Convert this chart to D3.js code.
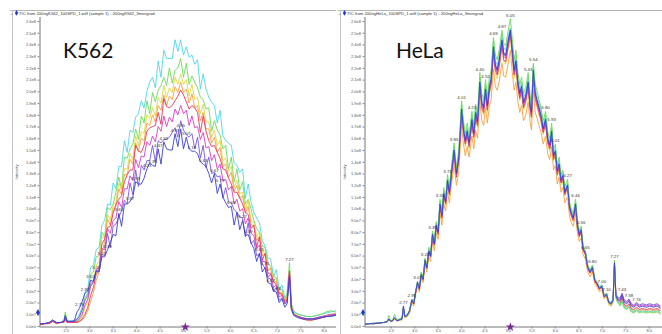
<!DOCTYPE html>
<html>
<head>
<meta charset="utf-8">
<script src="https://cdn.jsdelivr.net/npm/d3@7"></script>
<style>
  html, body { margin: 0; padding: 0; background: #fff; }
  svg { display: block; }
</style>
</head>
<body>
<svg id="chart" width="662" height="334"></svg>
<script>
// ---------- shared axis data (intensity in units of 1e7 counts) ----------
const yTickValues = [0,1,2,3,4,5,6,7,8,9,10,11,12,13,14,15,16,17,18,19,20,21,22,23,24,25,26];
const xTickValues = [2.5,3.0,3.5,4.0,4.5,5.0,5.5,6.0,6.5,7.0,7.5,8.0];
// trace colours: cyan, green, yellow, orange, red, magenta, violet, navy
const seriesColors = ["#4fd6e6", "#6fd85a", "#e0d83e", "#f4a040", "#e5365e", "#d43fc0", "#7b55de", "#3a3ec8"];

// ---------- K562 run: retention time (min) ----------
const k562Times = [1.95,2.05,2.15,2.22,2.30,2.40,2.46,2.49,2.53,2.60,2.68,2.74,
  2.79,2.85,2.91,2.97,3.03,3.09,3.15,3.21,3.27,3.33,3.39,3.45,3.51,3.57,3.63,3.69,3.75,3.81,3.87,3.93,3.99,
  4.05,4.11,4.17,4.23,4.29,4.35,4.41,4.47,4.53,4.59,4.65,4.71,4.77,4.83,4.89,4.95,5.01,5.07,5.13,5.19,5.25,
  5.31,5.37,5.43,5.49,5.55,5.61,5.67,5.73,5.79,5.85,5.91,5.97,6.03,6.09,6.15,6.21,6.27,6.33,6.39,6.45,6.51,
  6.57,6.63,6.69,6.75,6.81,6.87,6.93,6.99,7.05,7.11,7.17,7.22,
  7.27,7.31,7.36,7.45,7.55,7.65,7.75,7.85,7.95,8.05,8.15,8.25,8.32];

const k562Cyan = [0.2,0.2,0.3,0.5,0.3,0.3,0.4,0.8,0.4,0.4,0.5,0.6,
  1.0,1.6,2.9,3.2,5.0,5.2,6.5,6.7,8.6,
  9.0,10.4,10.3,12.2,11.7,13.6,13.6,15.8,14.8,16.7,16.5,17.8,18.1,19.2,18.6,20.0,20.8,21.2,20.3,22.6,21.2,23.5,22.8,22.8,22.8,24.4,23.4,24.4,23.1,23.8,22.9,23.1,22.3,22.7,20.2,21.5,20.2,19.5,19.1,18.8,17.3,18.4,16.2,15.8,15.6,15.4,13.9,13.7,13.1,13.4,10.9,12.1,10.6,9.7,9.2,8.8,7.3,6.8,5.8,5.7,4.2,4.8,3.1,3.5,2.4,2.8,
  5.0,1.8,1.2,1.0,0.9,0.8,0.8,0.9,1.0,1.1,1.2,1.3,1.2];
const k562Green = [0.2,0.2,0.3,0.4,0.3,0.3,0.5,1.2,0.4,0.4,0.4,0.5,
  0.8,1.3,2.4,2.8,4.4,4.6,5.9,6.0,8.0,
  7.6,10.1,9.9,10.4,11.4,12.7,11.7,14.4,14.3,15.1,15.5,16.8,15.9,17.9,17.3,19.2,18.1,19.9,19.1,20.1,20.5,21.2,20.5,22.0,20.7,21.8,22.0,22.8,21.2,22.4,20.6,21.3,20.8,20.3,19.5,19.3,18.5,18.6,16.6,17.5,16.7,16.3,15.1,15.4,13.4,14.4,12.3,13.4,11.6,12.3,10.4,10.8,10.0,9.0,8.3,8.0,6.8,6.7,5.3,5.1,4.2,4.1,3.1,3.1,2.2,2.7,
  5.4,1.9,1.3,1.0,0.9,0.8,0.8,0.9,1.0,1.2,1.3,1.2,1.3];
const k562Yellow = [0.1,0.2,0.2,0.4,0.3,0.3,0.4,0.7,0.3,0.3,0.3,0.4,
  0.5,0.8,1.5,2.1,3.4,3.9,5.2,5.5,7.6,
  7.5,9.5,9.0,10.3,10.6,12.2,11.6,13.4,13.4,14.7,14.2,16.2,15.4,16.6,16.4,18.0,17.7,18.6,17.9,19.5,19.0,20.5,19.5,20.3,19.9,21.2,20.6,21.5,20.6,21.0,19.6,20.6,19.3,19.5,18.1,18.9,17.4,17.4,16.1,16.7,15.4,15.8,14.1,14.3,13.2,13.6,11.8,12.4,11.3,11.4,9.9,10.7,9.0,8.8,7.6,8.0,6.3,6.4,4.8,5.0,3.8,4.0,2.8,2.9,2.2,2.5,
  4.9,1.7,1.1,0.9,0.7,0.6,0.6,0.7,0.8,0.9,1.0,1.1,1.0];
const k562Orange = [0.1,0.2,0.2,0.4,0.2,0.3,0.3,0.5,0.3,0.3,0.3,0.3,
  0.4,0.5,0.8,1.3,2.1,2.9,3.9,4.6,6.2,
  7.2,9.1,8.6,9.9,10.2,11.7,11.2,12.9,12.9,14.2,13.8,15.6,14.9,16.0,15.8,17.3,17.1,18.0,17.4,18.8,18.4,19.7,18.8,19.6,19.3,20.4,19.9,20.8,19.9,20.2,19.0,19.8,18.6,18.8,17.5,18.2,16.8,16.8,15.6,16.1,14.8,15.2,13.6,13.8,12.7,13.1,11.5,12.0,10.9,11.1,9.6,10.2,8.7,8.5,7.3,7.6,6.0,6.1,4.7,4.9,3.7,3.8,2.7,2.8,2.1,2.4,
  4.6,1.6,1.0,0.8,0.6,0.5,0.5,0.6,0.7,0.8,0.9,1.0,0.9];
const k562Red = [0.1,0.2,0.2,0.4,0.2,0.3,0.3,0.6,0.3,0.3,0.3,0.3,
  0.4,0.6,1.0,1.6,2.6,3.3,4.4,4.8,7.0,
  7.4,8.4,8.5,9.6,10.4,10.8,11.1,12.3,12.9,13.3,13.3,15.4,14.9,14.8,15.4,16.6,16.9,17.0,17.1,18.2,17.2,19.4,18.7,18.6,18.8,19.2,19.6,20.1,19.7,19.1,18.5,18.8,18.6,18.2,16.5,17.9,16.6,15.8,15.3,15.4,14.8,14.3,13.4,13.3,12.6,12.1,11.4,11.4,10.9,10.4,9.7,9.5,8.3,8.6,6.7,7.6,5.6,6.2,4.5,4.5,3.8,3.5,2.8,2.7,2.1,2.2,
  4.7,1.6,1.0,0.8,0.6,0.5,0.5,0.6,0.7,0.8,0.9,0.9,1.0];
const k562Magenta = [0.2,0.2,0.3,0.4,0.3,0.3,0.4,0.7,0.3,0.3,0.4,0.4,
  0.6,1.0,1.8,2.3,3.4,3.7,4.8,5.0,6.6,
  6.5,8.3,7.9,9.0,9.2,10.6,10.1,11.7,11.7,12.8,12.4,14.2,13.5,14.5,14.4,15.7,15.4,16.2,15.7,17.0,16.6,17.9,17.0,17.8,17.4,18.5,18.0,18.8,18.1,18.4,17.1,17.9,16.9,17.0,15.9,16.5,15.2,15.3,14.1,14.6,13.4,13.8,12.4,12.5,11.6,11.9,10.4,10.8,9.8,10.0,8.7,9.2,7.9,7.7,6.6,6.9,5.5,5.5,4.2,4.4,3.3,3.5,2.5,2.6,1.9,2.2,
  4.6,1.5,1.0,0.8,0.7,0.6,0.6,0.7,0.8,0.9,1.0,1.0,1.1];
const k562Violet = [0.2,0.2,0.3,0.5,0.3,0.3,0.4,0.8,0.4,0.4,0.4,0.6,
  0.8,1.4,2.2,2.6,3.6,3.8,4.7,4.8,6.1,
  6.0,7.9,6.7,8.5,8.7,9.3,9.8,10.7,10.4,12.2,11.2,13.3,11.9,13.7,13.3,14.1,14.1,15.4,14.0,15.8,15.6,15.9,15.9,16.1,16.5,16.9,16.1,17.5,16.7,16.3,16.1,16.4,15.1,16.1,14.3,15.4,13.5,14.4,13.0,13.1,12.7,12.8,10.9,11.8,10.6,10.5,9.9,9.7,9.3,9.2,7.6,8.8,7.0,7.3,6.0,6.1,5.3,4.9,4.1,4.0,2.9,3.3,2.2,2.4,1.9,2.0,
  4.4,1.5,1.0,0.8,0.7,0.6,0.6,0.7,0.8,0.8,0.9,1.0,1.0];
const k562Navy = [0.2,0.2,0.3,0.5,0.3,0.3,0.4,0.9,0.4,0.4,0.4,1.2,
  1.5,2.1,2.8,3.0,3.9,3.8,4.7,4.6,5.9,
  5.9,6.5,7.1,7.8,7.7,9.6,8.5,10.4,10.4,10.6,11.0,12.3,12.1,12.1,12.6,13.4,13.9,13.7,13.6,15.1,13.8,15.7,15.1,15.0,15.0,16.4,15.3,16.8,15.1,16.1,15.1,14.9,14.9,14.7,14.0,13.8,13.6,13.0,12.2,13.0,11.3,12.1,11.0,10.5,10.1,10.2,8.6,9.7,8.2,9.0,7.7,7.8,7.1,6.6,5.5,6.2,4.6,5.0,3.7,3.6,3.0,2.9,2.0,2.3,1.6,1.9,
  4.2,1.4,0.9,0.7,0.6,0.6,0.6,0.6,0.7,0.8,0.8,0.9,0.9];
const k562LabelTimes = [2.79,2.91,3.03,3.15,3.27,3.39,3.63,3.87,3.99,4.23,4.35,4.47,4.59,4.83,4.95,5.07,5.19,5.43,5.67,5.79,6.03,6.27,6.39,6.63,6.75,6.87,6.99,7.27];

// ---------- HeLa run ----------
const helaTimes = [1.95,2.05,2.15,2.25,2.35,2.42,2.46,2.50,2.54,2.58,2.63,2.70,2.74,2.77,2.80,2.85,2.90,
  2.95,2.99,3.03,3.07,3.11,3.15,3.19,3.23,3.27,3.31,3.35,3.39,3.43,3.47,3.51,3.55,3.59,3.63,3.67,3.71,3.75,3.79,3.85,3.90,3.95,
  4.01,4.05,4.09,4.13,4.17,4.23,4.27,4.31,4.35,4.40,4.44,4.48,4.52,4.56,4.60,4.64,4.69,4.73,4.77,4.81,4.87,4.91,4.95,
  5.00,5.05,5.09,5.13,5.17,5.21,5.25,5.29,5.33,5.38,5.43,5.47,5.50,5.54,5.58,5.62,5.66,5.70,5.75,5.80,5.85,5.89,5.93,5.97,
  6.01,6.05,6.09,6.13,6.17,6.21,6.27,6.31,6.35,6.39,6.44,6.48,6.52,6.56,6.60,6.65,6.70,6.75,6.80,6.85,6.90,6.95,
  7.00,7.05,7.10,7.15,7.20,7.24,7.27,7.30,7.34,
  7.39,7.43,7.48,7.53,7.58,7.63,7.68,7.74,7.80,7.87,7.95,8.02,8.10,8.18,8.25];

const helaCyan = [0.15,0.2,0.2,0.3,0.3,0.35,0.6,0.45,0.45,0.7,0.5,0.55,0.65,1.5,0.8,0.9,1.2,
  2.2,2.0,3.0,3.6,3.3,4.5,4.1,5.7,5.1,6.5,6.2,7.9,7.2,8.8,8.2,10.6,9.6,11.5,10.8,12.6,11.7,13.2,15.3,13.3,14.7,
  18.9,17.1,16.1,16.9,15.9,18.0,16.7,18.6,17.7,21.2,19.4,19.0,20.6,19.2,20.7,21.4,24.3,22.6,22.2,23.1,24.9,23.7,23.5,
  24.7,25.4,24.1,22.2,23.1,21.2,20.2,20.8,19.4,20.0,21.2,19.3,18.6,22.2,20.2,19.6,19.0,18.4,17.1,18.0,16.2,15.7,16.9,14.8,
  15.2,13.5,14.1,12.6,13.1,11.6,12.2,10.4,9.8,9.4,10.6,8.8,8.0,8.4,6.7,6.3,5.1,4.7,5.1,4.0,3.7,3.3,
  3.5,2.6,2.8,2.0,1.9,2.2,5.5,2.5,2.1,
  1.8,2.2,1.6,1.5,1.7,1.3,1.2,1.4,1.2,1.3,1.2,1.3,1.2,1.3,1.1];
const helaGreen = [0.15,0.2,0.25,0.25,0.3,0.4,0.9,0.4,0.5,1.0,0.5,0.6,0.6,1.6,0.8,0.9,1.3,
  2.3,2.0,3.0,3.8,3.3,4.6,4.2,5.8,5.2,6.7,6.2,8.1,7.3,8.9,8.3,10.8,9.8,11.8,11.0,12.9,11.9,13.4,15.6,13.5,15.0,
  19.2,17.5,16.4,17.3,16.2,18.3,17.1,18.9,18.1,21.6,19.8,19.3,21.0,19.6,21.1,21.8,24.6,23.1,22.7,23.5,25.2,24.1,23.9,
  25.1,26.2,24.5,22.7,23.5,21.6,20.6,21.2,19.8,20.4,21.6,19.7,18.9,22.4,20.6,20.0,19.3,18.7,17.5,18.3,16.5,16.0,17.3,15.1,
  15.5,13.7,14.4,12.9,13.3,11.9,12.5,10.6,10.0,9.6,10.8,8.9,8.1,8.5,6.9,6.4,5.2,4.8,5.2,4.0,3.7,3.3,
  3.5,2.6,2.8,2.0,1.8,2.1,5.6,2.4,2.0,
  1.7,2.1,1.5,1.4,1.6,1.2,1.1,1.3,1.1,1.2,1.1,1.2,1.1,1.2,1.0];
const helaYellow = [0.15,0.2,0.2,0.25,0.3,0.35,0.5,0.4,0.4,0.6,0.45,0.5,0.55,1.4,0.7,0.8,1.1,
  2.1,1.8,2.8,3.6,3.1,4.3,3.9,5.4,4.9,6.2,5.8,7.6,6.8,8.3,7.8,10.1,9.1,11.0,10.3,12.0,11.1,12.5,14.6,12.6,14.0,
  17.9,16.3,15.3,16.1,15.1,17.1,15.9,17.7,16.9,20.2,18.4,18.0,19.6,18.2,19.7,20.4,23.1,21.5,21.1,21.9,23.7,22.5,22.3,
  23.5,24.6,22.9,21.1,21.9,20.2,19.2,19.8,18.4,19.0,20.2,18.3,17.7,21.1,19.2,18.6,18.0,17.5,16.3,17.1,15.4,14.9,16.1,14.1,
  14.5,12.8,13.4,12.0,12.4,11.1,11.6,9.9,9.3,8.9,10.1,8.3,7.6,8.0,6.4,6.0,4.9,4.5,4.8,3.8,3.5,3.1,
  3.3,2.4,2.6,1.9,1.8,2.1,5.2,2.5,2.1,
  1.8,2.1,1.6,1.5,1.6,1.3,1.2,1.3,1.2,1.3,1.2,1.2,1.2,1.3,1.1];
const helaOrange = [0.15,0.2,0.2,0.25,0.3,0.3,0.5,0.35,0.4,0.6,0.4,0.5,0.5,1.3,0.7,0.8,1.1,
  2.0,1.7,2.7,3.4,2.9,4.0,3.7,5.2,4.6,5.9,5.5,7.2,6.4,7.9,7.4,9.6,8.6,10.4,9.8,11.4,10.5,11.9,13.8,12.0,13.2,
  17.0,15.5,14.5,15.3,14.4,16.2,15.1,16.7,16.0,19.1,17.5,17.1,18.6,17.3,18.7,19.3,21.9,20.4,20.1,20.8,22.4,21.3,21.2,
  22.3,23.5,21.7,20.1,20.8,19.1,18.2,18.8,17.5,18.0,19.1,17.4,16.7,20.1,18.2,17.7,17.1,16.6,15.5,16.2,14.6,14.2,15.3,13.3,
  13.7,12.1,12.7,11.4,11.8,10.5,11.0,9.4,8.8,8.5,9.6,7.9,7.2,7.5,6.1,5.7,4.6,4.2,4.6,3.6,3.3,2.9,
  3.1,2.3,2.5,1.8,1.7,2.0,5.0,2.4,2.0,
  1.9,2.3,1.7,1.6,1.8,1.4,1.3,1.5,1.3,1.4,1.3,1.4,1.3,1.4,1.2];
const helaRed = [0.15,0.2,0.2,0.25,0.3,0.35,0.55,0.4,0.45,0.65,0.45,0.55,0.6,1.5,0.8,0.9,1.2,
  2.2,1.9,2.8,3.6,3.1,4.3,3.9,5.5,4.9,6.3,5.9,7.6,6.9,8.4,7.8,10.2,9.2,11.1,10.4,12.2,11.2,12.6,14.7,12.7,14.1,
  18.1,16.5,15.5,16.3,15.3,17.2,16.1,17.8,17.1,20.4,18.6,18.2,19.8,18.4,19.9,20.6,23.3,21.8,21.4,22.1,23.9,22.7,22.5,
  23.7,24.9,23.1,21.4,22.1,20.4,19.4,20.0,18.6,19.2,20.4,18.5,17.8,21.4,19.4,18.8,18.2,17.6,16.5,17.2,15.6,15.1,16.3,14.2,
  14.6,12.9,13.5,12.2,12.5,11.2,11.8,10.0,9.4,9.0,10.2,8.4,7.6,8.0,6.5,6.1,4.9,4.5,4.9,3.8,3.5,3.1,
  3.3,2.5,2.6,2.0,1.9,2.2,5.3,2.6,2.2,
  2.0,2.4,1.8,1.7,1.9,1.5,1.4,1.6,1.4,1.5,1.4,1.5,1.4,1.5,1.3];
const helaMagenta = [0.15,0.2,0.2,0.25,0.3,0.35,0.6,0.4,0.45,0.7,0.45,0.55,0.6,1.6,0.8,0.9,1.3,
  2.2,1.9,2.9,3.7,3.2,4.4,4.0,5.5,5.0,6.3,5.9,7.7,6.9,8.5,7.9,10.3,9.3,11.2,10.5,12.3,11.3,12.8,14.8,12.9,14.3,
  18.3,16.6,15.6,16.4,15.4,17.4,16.2,18.0,17.2,20.6,18.8,18.4,20.0,18.6,20.1,20.8,23.6,22.0,21.6,22.4,24.2,23.0,22.8,
  24.0,25.2,23.4,21.6,22.4,20.6,19.6,20.2,18.8,19.4,20.6,18.7,18.0,21.6,19.6,19.0,18.4,17.8,16.6,17.4,15.7,15.2,16.4,14.4,
  14.8,13.1,13.7,12.3,12.7,11.3,11.9,10.1,9.5,9.1,10.3,8.5,7.7,8.1,6.5,6.1,5.0,4.6,5.0,3.9,3.6,3.2,
  3.4,2.5,2.7,2.0,1.9,2.2,5.3,2.7,2.3,
  2.3,2.7,2.1,2.0,2.2,1.8,1.7,1.9,1.7,1.8,1.7,1.8,1.7,1.8,1.6];
const helaViolet = [0.2,0.2,0.25,0.3,0.3,0.4,0.6,0.45,0.5,0.7,0.5,0.6,0.65,1.6,0.85,0.95,1.3,
  2.3,2.0,2.9,3.8,3.3,4.5,4.1,5.7,5.1,6.5,6.1,7.9,7.1,8.7,8.1,10.5,9.5,11.4,10.7,12.5,11.5,13.0,15.1,13.1,14.5,
  18.4,16.9,15.9,16.7,15.7,17.7,16.5,18.3,17.5,20.7,19.1,18.7,20.3,18.9,20.4,21.1,23.7,22.3,21.9,22.7,24.3,23.3,23.1,
  24.3,25.3,23.7,21.9,22.7,20.9,19.9,20.5,19.1,19.7,20.9,19.0,18.3,21.7,19.9,19.3,18.7,18.1,16.9,17.7,16.0,15.5,16.7,14.6,
  15.0,13.3,13.9,12.5,12.9,11.5,12.1,10.3,9.7,9.3,10.5,8.7,7.9,8.3,6.7,6.3,5.1,4.7,5.1,4.0,3.7,3.3,
  3.5,2.6,2.8,2.1,2.0,2.3,5.3,2.8,2.4,
  2.4,2.8,2.2,2.1,2.3,1.9,1.8,2.0,1.8,1.9,1.8,1.9,1.8,1.9,1.7];
const helaNavy = [0.15,0.2,0.2,0.25,0.3,0.35,0.6,0.4,0.45,0.7,0.45,0.55,0.6,1.7,0.8,0.9,1.3,
  2.2,1.9,2.9,3.7,3.2,4.4,4.0,5.6,5.0,6.4,6.0,7.8,7.0,8.6,8.0,10.4,9.4,11.3,10.6,12.4,11.4,12.9,15.0,13.0,14.4,
  18.5,16.8,15.8,16.6,15.6,17.6,16.4,18.2,17.4,20.8,19.0,18.6,20.2,18.8,20.3,21.0,23.8,22.2,21.8,22.6,24.4,23.2,23.0,
  24.2,25.2,23.6,21.8,22.6,20.8,19.8,20.4,19.0,19.6,20.8,18.9,18.2,21.8,19.8,19.2,18.6,18.0,16.8,17.6,15.9,15.4,16.6,14.5,
  14.9,13.2,13.8,12.4,12.8,11.4,12.0,10.2,9.6,9.2,10.4,8.6,7.8,8.2,6.6,6.2,5.0,4.6,5.0,3.9,3.6,3.2,
  3.4,2.5,2.7,2.0,1.9,2.2,5.4,2.6,2.2,
  2.2,2.6,2.0,1.9,2.1,1.7,1.6,1.8,1.6,1.7,1.6,1.7,1.6,1.7,1.5];
const helaLabelTimes = [2.77,2.95,3.07,3.23,3.39,3.55,3.71,3.85,4.01,4.23,4.40,4.52,4.69,4.87,5.05,5.43,5.54,5.80,5.93,6.01,6.27,6.44,6.56,6.65,6.80,7.00,7.10,7.27,7.43,7.58,7.74];

// ---------- layout ----------
const svg = d3.select("#chart");
const timeDomain = [1.94, 8.3];
const pxPerMin = 46.9;
const yScale = d3.scaleLinear().domain([0, 26]).range([326, 21]);
const fmtIntensity = v => (v * 1e7).toExponential(1).replace("+", "");
const fmtTime = d3.format(".2f");
const uiFont = "Liberation Sans, Arial, sans-serif";

const panels = [
  { id: "k562", frameX: 12, frameRight: 336, axisX: 39.5, clipRight: 336,
    title: "TIC from 200ngK562_100SPD_1.wiff (sample 1) - 200ngK562_3minigrad",
    name: "K562", nameX: 63,
    times: k562Times,
    series: [k562Cyan, k562Green, k562Yellow, k562Orange, k562Red, k562Magenta, k562Violet, k562Navy],
    drawOrder: [0, 1, 2, 3, 4, 5, 6, 7],
    labelTimes: k562LabelTimes, labelOnLowest: true },
  { id: "hela", frameX: 340, frameRight: 662, axisX: 364.5, clipRight: 662,
    title: "TIC from 200ngHeLa_100SPD_1.wiff (sample 1) - 200ngHeLa_3minigrad",
    name: "HeLa", nameX: 396,
    times: helaTimes,
    series: [helaCyan, helaGreen, helaYellow, helaOrange, helaRed, helaMagenta, helaViolet, helaNavy],
    drawOrder: [3, 2, 4, 5, 6, 0, 1, 7],
    labelTimes: helaLabelTimes, labelOnLowest: false }
];

panels.forEach(p => {
  const g = svg.append("g").attr("class", "panel-" + p.id);
  const x = d3.scaleLinear().domain(timeDomain)
    .range([p.axisX, p.axisX + (timeDomain[1] - timeDomain[0]) * pxPerMin]);

  // window frame: top rule and left rule
  g.append("line").attr("x1", p.frameX - 2).attr("x2", p.frameRight)
    .attr("y1", 10.5).attr("y2", 10.5).attr("stroke", "#b4b4b4").attr("stroke-width", 1);
  g.append("line").attr("x1", p.frameX + 0.5).attr("x2", p.frameX + 0.5)
    .attr("y1", 10.5).attr("y2", 334).attr("stroke", "#c4c4c4").attr("stroke-width", 1);

  // trace caption
  g.append("text").attr("x", p.frameX - 1.5).attr("y", 14.6)
    .attr("font-family", uiFont).attr("font-size", 4.2).attr("fill", "#666").text("+");
  g.append("path").attr("d", d3.symbol(d3.symbolDiamond, 10)())
    .attr("transform", `translate(${p.frameX + 4.5},12.9)`).attr("fill", "#1f3fcf");
  g.append("text").attr("x", p.frameX + 7).attr("y", 14.6)
    .attr("font-family", uiFont).attr("font-size", 4.2).attr("fill", "#333").text(p.title);

  // axes
  const yAxis = d3.axisLeft(yScale).tickValues(yTickValues).tickFormat(fmtIntensity)
    .tickSize(2).tickSizeOuter(0).tickPadding(1.5);
  const ya = g.append("g").attr("transform", `translate(${p.axisX},0)`).call(yAxis);
  const xAxis = d3.axisBottom(x).tickValues(xTickValues).tickFormat(d3.format(".1f"))
    .tickSize(2).tickSizeOuter(0).tickPadding(1);
  const xa = g.append("g").attr("transform", "translate(0,326.5)").call(xAxis);
  [ya, xa].forEach(a => {
    a.attr("font-size", 4).attr("font-family", uiFont);
    a.select(".domain").attr("stroke", "#777");
    a.selectAll(".tick line").attr("stroke", "#888");
    a.selectAll(".tick text").attr("fill", "#555");
  });
  ya.select(".domain").attr("d", `M0.5,${yScale(26) - 4}V${yScale(0) + 0.5}`);
  xa.select(".domain").attr("d", `M${p.axisX},0.5H${p.clipRight}`);

  g.append("text").attr("transform", `translate(${p.frameX + 5.5},172) rotate(-90)`)
    .attr("text-anchor", "middle").attr("font-size", 4)
    .attr("font-family", uiFont).attr("fill", "#555").text("Intensity");

  // traces, clipped to the plot area
  const clipId = "clip-" + p.id;
  g.append("clipPath").attr("id", clipId).append("rect")
    .attr("x", p.axisX + 0.5).attr("y", 0)
    .attr("width", p.clipRight - p.axisX - 0.5).attr("height", 326);
  const plot = g.append("g").attr("clip-path", `url(#${clipId})`);
  const line = d3.line().x(d => x(d.t)).y(d => yScale(d.v));
  p.drawOrder.forEach(si => {
    const vals = p.series[si];
    const pts = p.times.map((t, i) => ({ t, v: vals[i] }));
    plot.append("path").datum(pts).attr("d", line)
      .attr("fill", "none").attr("stroke", seriesColors[si])
      .attr("stroke-width", 0.9).attr("stroke-linejoin", "round");
  });

  // retention-time annotations at apexes
  p.labelTimes.forEach(t => {
    const i = p.times.findIndex(tt => Math.abs(tt - t) < 1e-6);
    if (i < 0) return;
    const vals = p.series.map(s => s[i]);
    const v = p.labelOnLowest && t < 7.25 ? vals[vals.length - 1] : d3.max(vals);
    g.append("text").attr("x", x(t)).attr("y", yScale(v) - 2)
      .attr("text-anchor", "middle").attr("font-size", 4.4)
      .attr("font-family", uiFont).attr("fill", "#333").text(fmtTime(t));
  });

  // markers: threshold arrow on the intensity axis, cursor star on the time axis
  g.append("path").attr("d", d3.symbol(d3.symbolDiamond, 14)())
    .attr("transform", `translate(${p.axisX - 1.5},${yScale(1.15)})`).attr("fill", "#1f3fcf");
  g.append("path").attr("d", d3.symbol(d3.symbolStar, 26)())
    .attr("transform", `translate(${x(5.05)},327)`).attr("fill", "#7a2a96");

  // sample name
  g.append("text").attr("x", p.nameX).attr("y", 58)
    .attr("font-family", "Lato, 'Open Sans', sans-serif").attr("font-size", 21)
    .attr("fill", "#111").text(p.name);
});
</script>
</body>
</html>
